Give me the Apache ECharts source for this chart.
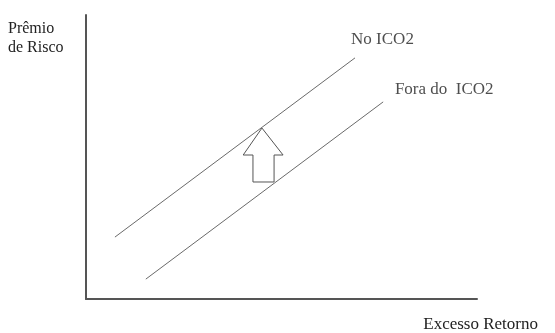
<!DOCTYPE html>
<html>
<head>
<meta charset="utf-8">
<script src="https://cdn.jsdelivr.net/npm/echarts@6/dist/echarts.min.js"></script>
<style>
  html, body { margin: 0; padding: 0; background: #fff; }
  #main { width: 555px; height: 333px; }
</style>
</head>
<body>
<div id="main"></div>
<script>
// linhas (coordenadas em escala 0-100 dos eixos)
var noICO2 = [[7.4, 21.8], [68.8, 84.9]];
var foraICO2 = [[15.3, 7.0], [76.0, 69.4]];
// seta (contorno)
var arrowX = [45.0, 50.4, 48.1, 48.1, 42.7, 42.7, 40.2];
var arrowY = [60.2, 50.7, 50.7, 41.2, 41.2, 50.7, 50.7];
var labels = [
  { name: 'No ICO2', value: [67.8, 91.2] },
  { name: 'Fora do  ICO2', value: [79.0, 73.6] }
];
var yTitle = 'Prêmio\nde Risco';
var xTitle = 'Excesso Retorno';

var fontFamily = '"Liberation Serif", "DejaVu Serif", serif';
var chart = echarts.init(document.getElementById('main'));

var arrowData = [];
for (var i = 0; i < arrowX.length; i++) {
  arrowData.push([arrowX[i], arrowY[i]]);
}

var lineStyle = { color: '#6a6a6a', width: 1 };

var option = {
  backgroundColor: '#fff',
  animation: false,
  grid: { left: 86, top: 15, right: 78, bottom: 34 },
  xAxis: {
    type: 'value', min: 0, max: 100,
    axisLine: { show: true, onZero: false, lineStyle: { color: '#555', width: 2 } },
    axisTick: { show: false }, axisLabel: { show: false }, splitLine: { show: false }
  },
  yAxis: {
    type: 'value', min: 0, max: 100,
    axisLine: { show: true, onZero: false, lineStyle: { color: '#555', width: 2 } },
    axisTick: { show: false }, axisLabel: { show: false }, splitLine: { show: false }
  },
  graphic: [
    {
      type: 'text', left: 8, top: 19,
      style: { text: yTitle, fontFamily: fontFamily, fontSize: 16, fill: '#222', lineHeight: 19 }
    },
    {
      type: 'text', right: 17, top: 316,
      style: { text: xTitle, fontFamily: fontFamily, fontSize: 17, fill: '#222' }
    }
  ],
  series: [
    {
      type: 'line', data: noICO2, symbol: 'none', lineStyle: lineStyle
    },
    {
      type: 'line', data: foraICO2, symbol: 'none', lineStyle: lineStyle
    },
    {
      type: 'custom',
      renderItem: function (params, api) {
        var pts = [];
        for (var i = 0; i < arrowData.length; i++) {
          pts.push(api.coord(arrowData[i]));
        }
        return {
          type: 'polygon',
          shape: { points: pts },
          style: { fill: '#fff', stroke: '#555', lineWidth: 1 }
        };
      },
      data: [0]
    },
    {
      type: 'scatter', symbolSize: 0, data: labels,
      label: {
        show: true, position: 'right', distance: 0,
        formatter: '{b}', fontFamily: fontFamily, fontSize: 17, color: '#222'
      }
    }
  ]
};
chart.setOption(option);
</script>
</body>
</html>
